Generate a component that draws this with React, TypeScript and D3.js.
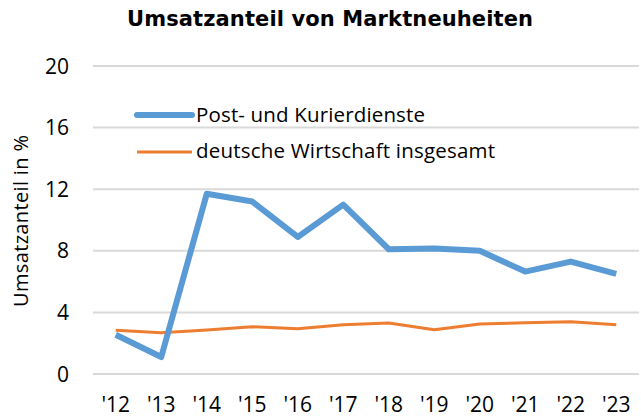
import React from "react";
import * as d3 from "d3";

const years = ["'12", "'13", "'14", "'15", "'16", "'17", "'18", "'19", "'20", "'21", "'22", "'23"];
const postKurier = [2.55, 1.1, 11.7, 11.2, 8.9, 11.0, 8.1, 8.15, 8.0, 6.65, 7.3, 6.5];
const deutscheWirtschaft = [2.84, 2.68, 2.85, 3.07, 2.94, 3.2, 3.31, 2.88, 3.25, 3.33, 3.4, 3.2];
const yTicks = [0, 4, 8, 12, 16, 20];
const seriesNames = ["Post- und Kurierdienste", "deutsche Wirtschaft insgesamt"];

const W = 641, H = 416;
const left = 93, right = 639, top = 66, bottom = 374;
const font = "'Open Sans', sans-serif";

export default function App() {
  const x = d3.scaleBand<string>().domain(years).range([left, right]);
  const y = d3.scaleLinear().domain([0, 20]).range([bottom, top]);
  const line = d3.line<number>()
    .x((_, i) => (x(years[i]) as number) + x.bandwidth() / 2)
    .y((d) => y(d));
  return (
    <svg width={W} height={H} style={{ position: "absolute", left: 0, top: 0, background: "#fff" }}>
      <text x={330} y={26} textAnchor="middle" fontFamily="'DejaVu Sans', sans-serif" fontWeight="bold" fontSize={21} textLength={406} lengthAdjust="spacing">
        Umsatzanteil von Marktneuheiten
      </text>
      {yTicks.map((t) => (
        <g key={t}>
          <line x1={left} x2={right} y1={y(t)} y2={y(t)} stroke="#d9d9d9" strokeWidth={2} />
          <text x={69} y={y(t) + 7.5} textAnchor="end" fontFamily={font} fontSize={21}>{t}</text>
        </g>
      ))}
      {years.map((yr) => (
        <text key={yr} x={(x(yr) as number) + x.bandwidth() / 2} y={411.5} textAnchor="middle" fontFamily={font} fontSize={21}>{yr}</text>
      ))}
      <text transform={`translate(28,221) rotate(-90)`} textAnchor="middle" fontFamily={font} fontSize={20} textLength={172} lengthAdjust="spacing">Umsatzanteil in %</text>
      <path d={line(deutscheWirtschaft) || ""} fill="none" stroke="#ED7D31" strokeWidth={3} strokeLinejoin="round" />
      <path d={line(postKurier) || ""} fill="none" stroke="#5B9BD5" strokeWidth={6} strokeLinejoin="round" />
      <line x1={137} x2={192} y1={115} y2={115} stroke="#5B9BD5" strokeWidth={6} strokeLinecap="round" />
      <text x={196} y={121.7} fontFamily={font} fontSize={20.5} textLength={229} lengthAdjust="spacing">{seriesNames[0]}</text>
      <line x1={137} x2={192} y1={152} y2={152} stroke="#ED7D31" strokeWidth={3} />
      <text x={196} y={158.3} fontFamily={font} fontSize={20.5} textLength={299} lengthAdjust="spacing">{seriesNames[1]}</text>
    </svg>
  );
}
